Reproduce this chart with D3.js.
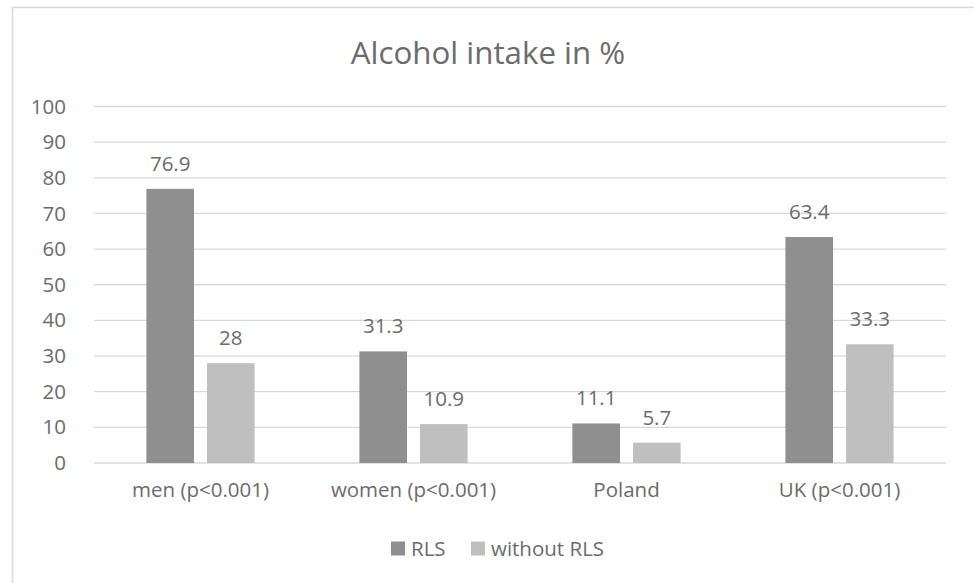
<!DOCTYPE html>
<html><head><meta charset="utf-8">
<script src="https://cdn.jsdelivr.net/npm/d3@7"></script>
<style>body{margin:0;background:#fff}svg{display:block}</style>
</head><body>
<svg id="c" width="974" height="583"></svg>
<script>
const categories = ["men (p<0.001)", "women (p<0.001)", "Poland", "UK (p<0.001)"];
const seriesNames = ["RLS", "without RLS"];
const rlsValues = [76.9, 31.3, 11.1, 63.4];
const withoutRlsValues = [28, 10.9, 5.7, 33.3];
const yTicks = [0, 10, 20, 30, 40, 50, 60, 70, 80, 90, 100];
const colors = ["#8f8f8f", "#bfbfbf"];
const title = "Alcohol intake in %";

const svg = d3.select("#c");
const font = "'Open Sans', sans-serif";
const textColor = "#6b6b6b";
const fs = 20.5;

// chart border
svg.append("rect").attr("x", 12.5).attr("y", 7.5).attr("width", 1000).attr("height", 1000)
  .attr("fill", "none").attr("stroke", "#d9d9d9").attr("stroke-width", 1.5);

const m = {left: 94, right: 946, top: 106.5, bottom: 463};
const x = d3.scaleBand().domain(categories).range([m.left, m.right]).paddingInner(0).paddingOuter(0);
const y = d3.scaleLinear().domain([0, 100]).range([m.bottom, m.top]);

// gridlines
svg.append("g").selectAll("line").data(yTicks).join("line")
  .attr("x1", m.left).attr("x2", m.right)
  .attr("y1", d => y(d)).attr("y2", d => y(d))
  .attr("stroke", "#d9d9d9").attr("stroke-width", 1.3);

// y axis labels
const yAxis = d3.axisLeft(y).tickValues(yTicks).tickSize(0).tickPadding(28);
const gy = svg.append("g").attr("transform", `translate(${m.left},0)`).call(yAxis);
gy.select(".domain").remove();
gy.selectAll("text").attr("font-family", font).attr("font-size", fs).attr("fill", textColor);

// x axis labels
const xAxis = d3.axisBottom(x).tickSize(0).tickPadding(19);
const gx = svg.append("g").attr("transform", `translate(0,${m.bottom})`).call(xAxis);
gx.select(".domain").remove();
gx.selectAll("text").attr("font-family", font).attr("font-size", fs).attr("fill", textColor);

// bars
const bw = x.bandwidth();
const barW = bw * 0.2235, gap = bw * 0.061;
const sub = d3.scaleOrdinal().domain(seriesNames).range([bw/2 - gap/2 - barW, bw/2 + gap/2]);
const data = [];
categories.forEach((c, i) => {
  data.push({cat: c, s: seriesNames[0], v: rlsValues[i]});
  data.push({cat: c, s: seriesNames[1], v: withoutRlsValues[i]});
});
const color = d3.scaleOrdinal().domain(seriesNames).range(colors);
svg.append("g").selectAll("rect").data(data).join("rect")
  .attr("x", d => x(d.cat) + sub(d.s)).attr("width", barW)
  .attr("y", d => y(d.v)).attr("height", d => y(0) - y(d.v))
  .attr("fill", d => color(d.s));

svg.append("g").selectAll("text").data(data).join("text")
  .attr("x", d => x(d.cat) + sub(d.s) + barW/2)
  .attr("y", d => y(d.v) - 18)
  .attr("text-anchor", "middle")
  .attr("font-family", font).attr("font-size", fs).attr("fill", textColor)
  .text(d => d.v);

// title
svg.append("text").attr("x", 488).attr("y", 64).attr("text-anchor", "middle")
  .attr("font-family", font).attr("font-size", 31.3).attr("fill", textColor).text(title);

// legend
const lg = svg.append("g");
const legendX = [391, 471];
seriesNames.forEach((s, i) => {
  lg.append("rect").attr("x", legendX[i]).attr("y", 541.5).attr("width", 14).attr("height", 14).attr("fill", colors[i]);
  lg.append("text").attr("x", legendX[i] + 20).attr("y", 555.5)
    .attr("font-family", font).attr("font-size", fs).attr("fill", textColor).text(s);
});
</script>
</body></html>
